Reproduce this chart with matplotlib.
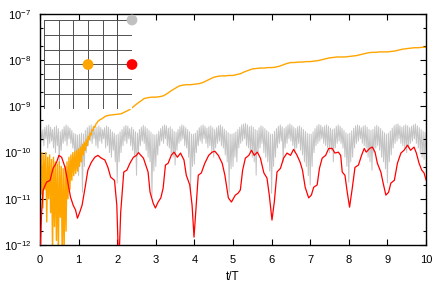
import numpy as np
import matplotlib
matplotlib.use("Agg")
import matplotlib.pyplot as plt
from matplotlib.ticker import LogLocator, FixedLocator, NullFormatter

plt.rcParams['font.family'] = ['Liberation Sans', 'DejaVu Sans']
plt.rcParams['mathtext.default'] = 'regular'

# ---------------- data (log10 values) ----------------
# gray: rapid oscillation; troughs at t = 0.00, 0.05, ..., 10.00 ; peaks at t = 0.025, 0.075, ..., 9.975
gray_trough = [
    -9.9, -9.75, -9.85, -9.7, -9.9, -9.8, -9.75, -9.9, -10.0, -9.85, -10.23, -9.95, -9.8, -9.75, -9.85, -9.7, -9.8, -9.9, -10.1, -10.3,
    -10.5, -10.2, -10.86, -10.3, -10.0, -9.85, -9.75, -9.8, -9.7, -9.85, -9.9, -9.75, -9.8, -9.7, -9.9, -9.85, -10.0, -10.1, -9.95, -10.2,
    -10.66, -10.2, -10.0, -9.85, -9.75, -9.8, -9.7, -9.85, -9.95, -10.1, -10.49, -10.0, -9.85, -9.75, -9.8, -9.95, -10.1, -10.2, -10.96, -10.4,
    -10.3, -10.05, -9.85, -9.75, -9.8, -9.7, -9.85, -9.9, -10.05, -10.1, -10.27, -9.95, -9.8, -9.75, -9.7, -9.85, -9.9, -10.1, -10.81, -10.3,
    -10.25, -10.0, -9.85, -9.75, -9.8, -9.7, -9.8, -9.9, -9.85, -10.0, -10.1, -9.9, -9.8, -9.75, -9.85, -9.9, -10.05, -10.2, -10.86, -10.35,
    -10.3, -10.1, -10.2, -9.9, -9.8, -9.75, -9.7, -9.85, -9.9, -10.0, -10.1, -10.2, -10.49, -10.0, -9.9, -9.8, -10.0, -10.1, -10.2, -10.4,
    -10.88, -10.3, -10.1, -9.9, -9.8, -9.75, -10.2, -9.9, -9.8, -9.7, -9.75, -9.85, -10.0, -9.9, -9.8, -9.95, -10.05, -10.2, -10.3, -10.5,
    -10.7, -10.3, -10.0, -9.85, -9.8, -9.75, -9.7, -9.8, -9.85, -9.9, -10.0, -9.95, -10.2, -9.9, -9.8, -9.75, -9.8, -9.9, -10.1, -10.3,
    -10.64, -10.2, -10.1, -9.9, -9.8, -9.75, -9.7, -9.8, -9.85, -9.9, -10.1, -10.2, -10.38, -10.0, -9.9, -9.85, -9.95, -10.1, -10.2, -10.35,
    -10.66, -10.2, -10.05, -9.9, -9.8, -9.75, -9.7, -9.8, -9.85, -9.9, -10.0, -9.9, -9.8, -9.75, -9.7, -9.8, -9.9, -10.0, -10.1, -10.15,
    -10.0]
gray_peak = [
    -9.55, -9.5, -9.45, -9.42, -9.4, -9.45, -9.5, -9.45, -9.42, -9.48, -9.55, -9.5, -9.44, -9.4, -9.43, -9.47, -9.52, -9.58, -9.6, -9.62,
    -9.6, -9.58, -9.6, -9.52, -9.46, -9.42, -9.4, -9.44, -9.48, -9.45, -9.42, -9.46, -9.5, -9.46, -9.42, -9.45, -9.5, -9.55, -9.58, -9.62,
    -9.6, -9.55, -9.5, -9.44, -9.41, -9.43, -9.48, -9.45, -9.5, -9.55, -9.58, -9.5, -9.45, -9.41, -9.44, -9.48, -9.52, -9.56, -9.6, -9.62,
    -9.6, -9.54, -9.48, -9.43, -9.4, -9.42, -9.47, -9.44, -9.49, -9.54, -9.56, -9.5, -9.44, -9.4, -9.42, -9.46, -9.5, -9.55, -9.6, -9.6,
    -9.58, -9.52, -9.46, -9.42, -9.4, -9.43, -9.47, -9.44, -9.42, -9.46, -9.5, -9.46, -9.42, -9.4, -9.44, -9.49, -9.53, -9.57, -9.6, -9.6,
    -9.58, -9.55, -9.5, -9.45, -9.4, -9.38, -9.37, -9.4, -9.44, -9.42, -9.45, -9.5, -9.52, -9.46, -9.42, -9.44, -9.48, -9.52, -9.56, -9.6,
    -9.6, -9.54, -9.48, -9.43, -9.4, -9.44, -9.48, -9.44, -9.4, -9.38, -9.41, -9.45, -9.48, -9.44, -9.42, -9.46, -9.5, -9.54, -9.58, -9.6,
    -9.6, -9.55, -9.48, -9.42, -9.39, -9.41, -9.45, -9.42, -9.4, -9.43, -9.47, -9.5, -9.48, -9.43, -9.4, -9.43, -9.47, -9.52, -9.57, -9.6,
    -9.58, -9.53, -9.47, -9.42, -9.4, -9.42, -9.46, -9.43, -9.41, -9.45, -9.5, -9.52, -9.5, -9.44, -9.41, -9.44, -9.48, -9.53, -9.57, -9.6,
    -9.58, -9.53, -9.47, -9.42, -9.39, -9.38, -9.42, -9.45, -9.42, -9.4, -9.42, -9.46, -9.43, -9.4, -9.38, -9.42, -9.46, -9.5, -9.54, -9.56]

# orange: noisy early part (t = 0.000 ... 1.575, step 0.025)
orange_early = [
    -10.2, -10.9, -10.0, -11.2, -10.05, -10.8, -10.0, -11.5, -10.1, -11.0,
    -10.05, -11.3, -10.15, -12.2, -10.1, -11.6, -10.2, -11.9, -10.25, -12.3,
    -10.2, -11.4, -10.3, -12.3, -10.35, -12.2, -10.3, -11.7, -10.2, -11.0,
    -10.1, -10.8, -10.05, -10.6, -10.0, -10.5, -9.98, -10.45, -9.95, -10.4,
    -9.92, -10.3, -9.88, -10.2, -9.82, -10.05, -9.78, -9.95, -9.72, -9.85,
    -9.65, -9.72, -9.58, -9.62, -9.5, -9.52, -9.43, -9.45, -9.38, -9.36,
    -9.32, -9.31, -9.29, -9.28]
# orange: later part (t = 1.6 ... 10.0, step 0.1)
orange_late = [-9.27, -9.21, -9.19, -9.18, -9.17, -9.16, -9.12, -9.08, -9.02, -8.95,
               -8.89, -8.83, -8.81, -8.80, -8.80, -8.79, -8.77, -8.72, -8.66, -8.61,
               -8.56, -8.54, -8.53, -8.53, -8.52, -8.51, -8.49, -8.45, -8.41, -8.37,
               -8.35, -8.34, -8.34, -8.33, -8.33, -8.31, -8.29, -8.25, -8.22, -8.19,
               -8.18, -8.17, -8.17, -8.16, -8.16, -8.15, -8.13, -8.10, -8.07, -8.05,
               -8.05, -8.04, -8.04, -8.03, -8.03, -8.02, -8.01, -7.99, -7.97, -7.95,
               -7.94, -7.93, -7.93, -7.93, -7.92, -7.91, -7.90, -7.88, -7.86, -7.84,
               -7.83, -7.83, -7.82, -7.82, -7.82, -7.81, -7.80, -7.78, -7.76, -7.75,
               -7.74, -7.73, -7.73, -7.72, -7.72]

# red: smoother curve
t_red = [0.0, 0.04, 0.08, 0.17, 0.26, 0.34, 0.43, 0.49, 0.56, 0.65, 0.72, 0.79, 0.86, 0.92, 0.97,
         1.03, 1.09, 1.17, 1.24, 1.33, 1.42, 1.5, 1.59, 1.68, 1.76, 1.83, 1.93, 1.99, 2.04, 2.09,
         2.17, 2.25, 2.33, 2.42, 2.5, 2.55, 2.68, 2.8, 2.85, 2.93, 2.99, 3.06, 3.13, 3.19, 3.25,
         3.32, 3.4, 3.47, 3.56, 3.64, 3.73, 3.79, 3.88, 3.94, 3.99, 4.03, 4.1, 4.18, 4.27, 4.37,
         4.46, 4.53, 4.62, 4.72, 4.79, 4.88, 4.96, 5.06, 5.13, 5.19, 5.25, 5.32, 5.41, 5.48, 5.55,
         5.63, 5.71, 5.8, 5.88, 5.94, 6.01, 6.07, 6.14, 6.23, 6.31, 6.4, 6.49, 6.57, 6.66, 6.74,
         6.8, 6.87, 6.96, 7.03, 7.09, 7.18, 7.24, 7.31, 7.4, 7.48, 7.57, 7.64, 7.73, 7.79, 7.83,
         7.9, 7.96, 8.02, 8.09, 8.16, 8.25, 8.33, 8.4, 8.45, 8.54, 8.61, 8.68, 8.74, 8.83, 8.89,
         8.96, 9.03, 9.09, 9.18, 9.26, 9.35, 9.43, 9.52, 9.6, 9.69, 9.75, 9.82, 9.89, 9.95, 10.0]
red_log = [-12.3, -11.31, -10.81, -10.64, -10.6, -10.34, -10.21, -10.06, -10.1, -10.32, -10.64, -10.96, -11.14, -11.24, -11.42,
           -11.29, -11.14, -10.75, -10.38, -10.21, -10.1, -10.06, -10.12, -10.16, -10.32, -10.53, -10.6, -11.14, -12.5, -11.3,
           -10.42, -10.38, -10.23, -10.1, -10.06, -10.0, -10.12, -10.42, -10.85, -11.09, -11.2, -11.07, -10.98, -10.77, -10.27,
           -10.23, -10.06, -9.99, -10.1, -10.01, -10.16, -10.49, -10.7, -11.14, -11.83, -11.35, -10.49, -10.44, -10.23, -10.06,
           -9.99, -9.97, -10.06, -10.23, -10.49, -10.98, -11.07, -10.92, -10.88, -10.81, -10.38, -10.12, -10.06, -9.95, -10.06,
           -9.99, -10.12, -10.44, -10.55, -10.92, -11.46, -11.07, -10.42, -10.34, -10.12, -10.01, -10.06, -9.93, -10.06, -10.21,
           -10.38, -10.75, -10.98, -10.92, -10.75, -10.7, -10.34, -10.12, -10.06, -9.91, -9.91, -10.01, -9.99, -10.06, -10.42,
           -10.49, -10.86, -11.18, -10.77, -10.32, -10.27, -10.06, -9.91, -9.99, -9.91, -9.88, -9.99, -10.23, -10.42, -10.66,
           -10.92, -10.86, -10.66, -10.6, -10.23, -10.01, -9.95, -9.84, -9.95, -9.88, -10.01, -10.23, -10.38, -10.44, -10.59]

# inset: grid with three coloured dots
inset_x = [6, 3, 6]
inset_y = [6, 3, 3]
inset_colors = ['#c0c0c0', '#ffa500', '#ff0000']

x_ticks = [0, 1, 2, 3, 4, 5, 6, 7, 8, 9, 10]
y_ticks = [1e-12, 1e-11, 1e-10, 1e-9, 1e-8, 1e-7]
y_ticklabels = ['$10^{-12}$', '$10^{-11}$', '$10^{-10}$', '$10^{-9}$', '$10^{-8}$', '$10^{-7}$']

# ---------------- assemble series ----------------
t_gray = np.arange(len(gray_trough) + len(gray_peak)) * 0.025
gray_log = np.empty(len(t_gray))
gray_log[0::2] = gray_trough
gray_log[1::2] = gray_peak

t_or = np.concatenate([np.arange(len(orange_early)) * 0.025,
                       1.6 + np.arange(len(orange_late)) * 0.1])
or_log = np.array(orange_early + orange_late)

# ---------------- figure ----------------
fig = plt.figure(figsize=(4.36, 2.86), dpi=100)
ax = fig.add_axes([40 / 436, 1 - 245 / 286, 386 / 436, 231 / 286])

ax.plot(t_gray, 10 ** gray_log, color='#c4c4c4', lw=0.7, zorder=1)
ax.plot(t_or, 10 ** or_log, color='#ffa500', lw=1.0, zorder=2)
ax.plot(t_red, 10 ** np.array(red_log), color='#ff0000', lw=0.9, zorder=3)

ax.set_yscale('log')
ax.set_xlim(0, 10)
ax.set_ylim(1e-12, 1e-7)
ax.set_xticks(x_ticks)
ax.set_xticklabels([str(v) for v in x_ticks])
ax.yaxis.set_major_locator(FixedLocator(y_ticks))
ax.set_yticklabels(y_ticklabels)
ax.yaxis.set_minor_locator(LogLocator(base=10, subs=(2.0, 5.0), numticks=20))
ax.yaxis.set_minor_formatter(NullFormatter())
ax.tick_params(which='both', direction='in', top=True, right=True, labelsize=8)
ax.tick_params(axis='x', which='major', pad=7.5)
ax.tick_params(axis='y', which='major', pad=6.5)
ax.tick_params(which='major', length=4, width=0.8)
ax.tick_params(which='minor', length=2, width=0.8)
for s in ax.spines.values():
    s.set_linewidth(1.0)
ax.set_xlabel('t/T', fontsize=8.5, labelpad=4)

# inset grid
axi = fig.add_axes([44 / 436, 1 - 109 / 286, 88 / 436, 89 / 286])
axi.set_facecolor('white')
axi.set_xlim(0, 6)
axi.set_ylim(0, 6)
for k in range(7):
    axi.axvline(k, color='#505050', lw=0.7, zorder=1)
    axi.axhline(k, color='#505050', lw=0.7, zorder=1)
axi.set_xticks([])
axi.set_yticks([])
for name, s in axi.spines.items():
    s.set_visible(False)
axi.scatter(inset_x, inset_y, s=60, c=inset_colors, zorder=5, clip_on=False, linewidths=0)

fig.savefig('out.png', dpi=100)
